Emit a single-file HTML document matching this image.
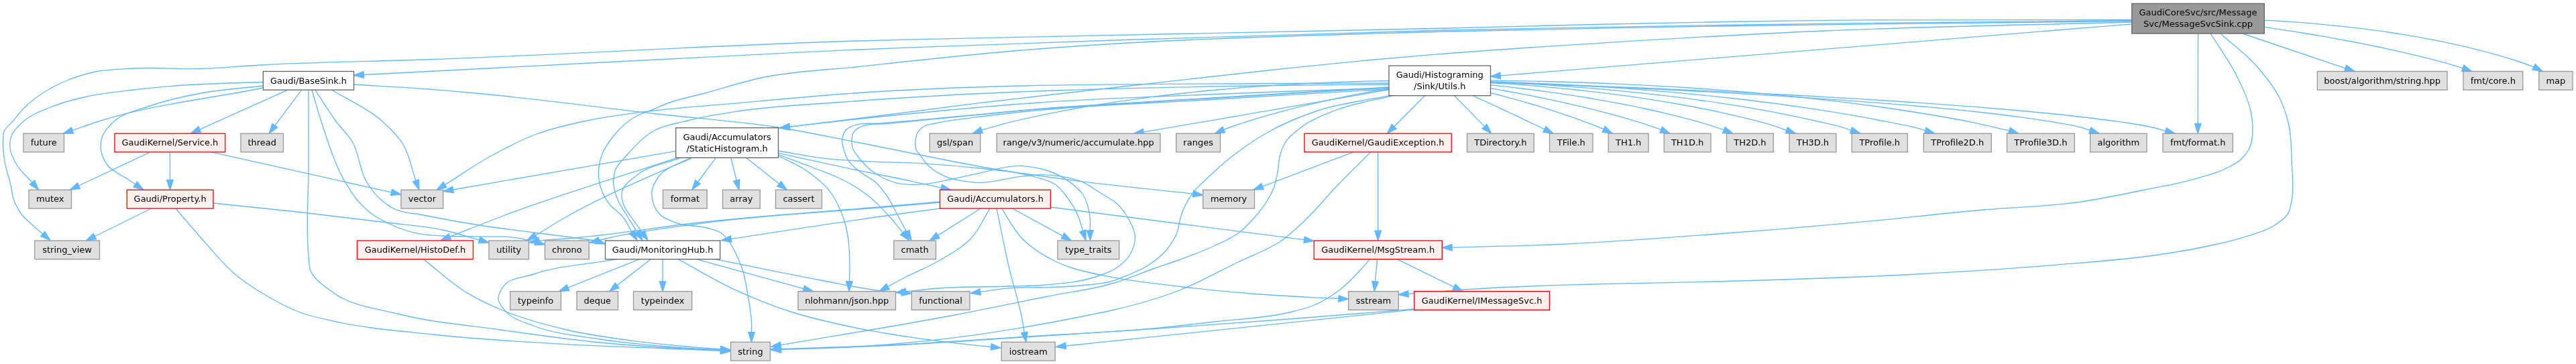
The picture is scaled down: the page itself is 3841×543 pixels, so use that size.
<!DOCTYPE html>
<html lang="en"><head><meta charset="utf-8"><title>GaudiCoreSvc/src/MessageSvc/MessageSvcSink.cpp include dependency graph</title>
<style>html,body{margin:0;padding:0;background:#fff;overflow:hidden}svg{display:block;will-change:transform}
text{font-family:"DejaVu Sans","Liberation Sans",sans-serif;font-size:13px;text-anchor:middle;fill:#000}
.e{fill:none;stroke:#63b8ff;stroke-width:1.333}.a{fill:#63b8ff;stroke:#63b8ff;stroke-width:1.333}
rect{stroke-width:1.333}.ng{fill:#e0e0e0;stroke:#999}.nx{fill:#fff0f0;stroke:#f00}.nw{fill:#fff;stroke:#666}.nr{fill:#999;stroke:#666}
</style></head><body>
<svg width="3841" height="543" viewBox="0 0 3841 543">
<g class="e">
<path d="M3178.8,33.0C3025.8,37.3 2872.8,39.4 2720.0,46.0C2613.3,50.6 2506.6,56.7 2400.0,63.3C2313.3,68.7 2226.6,74.2 2140.0,81.2C2106.0,84.0 2072.0,86.9 2038.0,90.0C1992.0,94.3 1946.0,99.2 1900.0,104.0C1825.2,111.9 1750.4,120.6 1675.6,129.0C1606.9,136.7 1538.2,144.2 1469.6,152.5C1414.7,159.2 1359.9,166.7 1305.0,173.5C1262.4,178.8 1219.8,183.9 1177.2,189.1"/>
<path d="M3178.8,30.5C3025.8,32.1 2872.9,33.2 2720.0,35.3C2613.3,36.7 2506.7,38.4 2400.0,40.3C2313.3,41.9 2226.7,43.5 2140.0,45.5C1926.6,50.5 1713.3,58.1 1500.0,65.8C1426.7,68.4 1353.3,70.9 1280.0,74.0C1153.3,79.3 1026.7,86.5 900.0,93.0C780.8,99.1 661.6,105.4 542.4,111.5"/>
<path d="M3178.8,35.8L2237.3,112.9"/>
<path d="M3178.8,31.5C3025.8,33.3 2872.9,34.7 2720.0,36.8C2613.3,38.3 2506.7,39.8 2400.0,41.8C2313.3,43.5 2226.6,45.0 2140.0,47.5C1926.5,53.7 1712.7,58.3 1500.0,77.0C1426.6,83.4 1353.3,91.6 1280.0,99.5C1233.3,104.5 1185.9,105.7 1140.0,115.0C1108.6,121.4 1078.0,131.7 1047.0,140.0C1031.3,144.2 1015.3,147.2 1000.0,152.5C990.5,155.8 981.3,160.0 972.0,163.8C964.7,166.7 956.9,168.8 950.0,172.5C936.6,179.6 924.6,190.7 915.0,202.5C908.1,211.1 901.3,220.7 897.5,231.0C894.6,238.9 892.7,247.6 892.5,256.0C892.3,264.3 893.5,273.1 896.0,281.0C898.9,289.9 904.0,298.7 910.0,306.0C914.9,312.0 922.4,316.0 927.5,322.0C933.5,329.1 937.3,338.0 942.2,346.0"/>
<path d="M3296.0,49.9C3309.2,71.4 3324.7,91.8 3335.7,114.4C3343.5,130.4 3351.9,146.7 3355.6,164.0C3357.4,172.5 3359.0,181.3 3359.0,190.0C3359.0,199.9 3358.7,210.9 3354.7,219.8C3351.9,226.1 3347.2,232.1 3342.3,237.0C3335.6,243.6 3326.2,247.7 3317.6,252.0C3303.6,258.9 3288.0,262.5 3273.0,266.8C3248.8,273.8 3223.7,277.9 3199.0,283.0C3166.1,289.7 3133.2,296.7 3100.0,301.4C3053.0,308.1 3005.2,308.8 2957.8,313.0C2891.4,318.9 2825.3,326.7 2758.9,332.7C2692.7,338.7 2626.3,344.1 2560.0,349.0C2481.4,354.9 2402.7,361.1 2324.0,364.5C2271.1,366.8 2218.0,367.5 2165.0,369.1"/>
<path d="M3343.7,50.0L3497.1,101.8"/>
<path d="M3375.6,40.2C3381.9,41.2 3388.3,42.1 3394.6,43.1C3401.3,44.1 3408.0,45.1 3414.7,46.2C3421.8,47.3 3428.8,48.4 3435.8,49.5C3443.1,50.8 3450.5,52.0 3457.8,53.2C3465.3,54.5 3472.8,55.9 3480.3,57.2C3488.0,58.6 3495.7,60.0 3503.4,61.5C3511.2,63.0 3519.1,64.5 3526.9,66.1C3534.8,67.6 3542.7,69.3 3550.6,70.9C3558.5,72.6 3566.4,74.3 3574.3,76.1C3582.2,77.9 3590.1,79.7 3598.0,81.6C3605.8,83.4 3613.7,85.4 3621.5,87.3C3629.2,89.3 3636.9,91.3 3644.6,93.4C3653.8,96.0 3663.0,99.0 3672.2,101.7"/>
<path d="M3277.5,50.0L3277.2,184.4"/>
<path d="M3375.5,30.1C3383.9,30.6 3392.4,31.0 3400.8,31.5C3409.9,32.1 3419.0,32.7 3428.2,33.4C3437.9,34.1 3447.6,34.9 3457.2,35.8C3467.4,36.7 3477.6,37.7 3487.8,38.8C3498.4,39.9 3509.0,41.1 3519.6,42.4C3530.5,43.7 3541.4,45.2 3552.3,46.7C3563.5,48.3 3574.6,50.0 3585.7,51.8C3597.0,53.7 3608.2,55.6 3619.5,57.8C3630.8,59.9 3642.1,62.1 3653.3,64.6C3664.6,67.0 3675.9,69.6 3687.1,72.3C3698.2,75.1 3709.3,78.0 3720.4,81.1C3731.3,84.2 3742.2,87.4 3753.0,91.0C3761.4,93.8 3769.7,96.8 3778.1,99.8"/>
<path d="M3310.9,49.9C3329.1,66.4 3349.6,81.0 3365.6,99.5C3378.7,114.7 3392.0,130.9 3400.4,149.0C3406.4,161.9 3410.7,176.0 3413.5,190.0C3416.8,206.3 3416.4,223.3 3417.0,240.0C3417.7,259.6 3420.9,279.9 3417.0,299.0C3415.7,305.6 3414.9,313.0 3411.6,318.7C3407.4,326.0 3399.0,331.2 3391.8,336.0C3378.8,344.8 3362.4,348.4 3347.3,353.3C3328.0,359.6 3307.9,363.8 3288.0,368.0C3265.1,372.9 3241.9,376.5 3218.7,380.0C3165.2,388.0 3111.0,391.3 3057.0,395.8C2990.8,401.3 2924.4,405.4 2858.0,409.0C2758.8,414.4 2659.4,417.3 2560.0,420.0C2498.0,421.7 2436.0,422.1 2374.0,424.0C2324.3,425.5 2274.5,426.7 2224.8,429.5C2183.2,431.8 2141.6,435.5 2100.0,438.4"/>
<path d="M3178.8,29.5C3025.8,29.8 2872.9,28.7 2720.0,30.4C2613.3,31.6 2506.7,33.7 2400.0,36.0C2313.3,37.9 2226.7,40.4 2140.0,42.5C1926.7,47.6 1713.3,50.8 1500.0,55.8C1426.7,57.4 1353.3,58.9 1280.0,61.0C1068.6,67.1 857.4,80.9 646.0,88.5C560.0,91.6 473.9,92.3 388.0,97.0C358.7,98.6 329.4,101.6 300.0,102.5C266.7,103.5 233.2,100.2 200.0,102.0C180.0,103.1 159.5,103.2 140.0,107.5C126.4,110.5 112.9,114.7 100.0,120.0C86.8,125.5 73.8,132.0 62.0,140.0C53.2,145.9 44.6,152.6 37.0,160.0C30.4,166.4 25.0,174.0 19.0,181.0C14.7,186.0 8.3,190.2 6.0,196.0C3.9,201.2 4.6,207.7 4.5,213.5C4.3,223.5 5.7,233.6 7.5,243.5C9.2,253.1 12.6,262.5 15.0,272.0C17.5,282.0 18.0,292.7 22.0,302.0C24.6,308.1 28.0,314.2 32.0,319.5C37.0,326.1 43.8,331.4 50.0,337.0C54.5,341.1 59.2,344.9 63.8,348.9"/>
<path d="M470.0,134.2C480.3,149.8 489.9,166.0 501.0,181.0C508.6,191.3 518.4,200.2 525.0,211.0C536.2,229.2 535.6,253.9 547.0,272.0C551.8,279.6 557.2,287.3 563.6,293.7C570.7,300.7 579.2,307.2 588.0,311.6C601.1,318.2 617.3,318.0 632.0,321.0C659.5,326.6 687.0,331.6 714.7,336.0C742.0,340.3 769.6,343.4 797.0,347.0C815.3,349.4 833.7,351.6 852.0,354.0C864.2,355.6 876.4,357.3 888.6,359.0"/>
<path d="M392.4,128.0C361.6,131.7 330.4,133.3 300.0,139.0C274.7,143.8 249.3,149.1 225.0,157.5C206.2,164.0 184.2,167.8 170.0,181.0C163.2,187.3 155.5,194.8 152.5,203.5C150.9,208.2 150.0,213.6 150.0,218.5C150.1,228.0 154.6,238.4 160.0,246.0C166.8,255.5 179.9,260.1 190.0,267.0C193.9,269.7 197.8,272.3 201.8,275.0"/>
<path d="M429.2,134.2L297.7,193.1"/>
<path d="M465.0,134.2C469.7,149.8 473.9,165.6 479.0,181.0C489.2,211.9 498.4,244.1 515.0,272.0C520.5,281.3 526.0,290.8 533.0,299.0C538.1,305.0 543.9,310.7 550.0,315.7C559.8,323.7 571.5,329.7 583.0,335.0C594.4,340.2 606.4,344.5 618.6,347.3C632.0,350.4 646.2,351.0 660.0,352.0C678.2,353.3 696.5,352.4 714.7,352.8C733.0,353.3 751.6,351.9 769.7,354.7C779.3,356.2 788.7,358.8 798.3,360.9"/>
<path d="M392.4,131.0C310.8,147.7 226.7,155.5 147.5,181.0C134.3,185.3 121.2,190.0 108.0,194.5"/>
<path d="M527.6,126.0C565.1,128.3 602.6,130.1 640.0,133.0C666.7,135.1 693.4,137.5 720.0,140.0C806.9,148.2 893.3,160.2 980.0,170.0C1040.0,176.8 1100.4,180.7 1160.0,190.0C1200.9,196.4 1241.4,205.1 1282.0,213.0C1313.6,219.2 1345.1,225.8 1376.7,232.0C1407.8,238.1 1438.8,244.6 1470.0,250.0C1514.5,257.7 1559.2,263.7 1604.0,269.6C1662.2,277.2 1720.7,282.6 1779.1,289.1"/>
<path d="M392.4,122.5C353.3,124.0 314.0,124.2 275.0,127.0C250.0,128.8 224.9,131.0 200.0,134.0C174.9,137.0 149.5,139.2 125.0,145.0C108.1,149.0 91.0,153.3 75.0,160.0C61.2,165.8 45.8,171.1 35.0,181.0C27.5,187.9 18.5,196.2 16.0,206.0C14.8,210.7 14.5,216.1 15.0,221.0C15.8,229.7 20.5,238.4 25.0,246.0C30.8,255.8 40.3,263.3 48.0,272.0"/>
<path d="M460.0,134.2C460.0,172.8 460.0,211.4 460.0,250.0C460.0,293.3 455.8,336.9 460.0,380.0C460.7,387.3 460.3,395.3 462.5,402.0C467.4,416.7 484.2,427.1 497.0,436.6C524.5,457.0 563.1,460.4 597.0,469.0C645.6,481.3 696.2,485.0 746.0,492.0C795.6,499.0 845.2,506.1 895.0,511.0C936.2,515.0 977.6,517.9 1019.0,520.0C1037.6,521.0 1056.1,521.6 1074.7,522.4"/>
<path d="M449.7,134.2L409.9,187.3"/>
<path d="M495.0,134.2C520.0,149.8 548.3,161.4 570.0,181.0C580.8,190.8 592.1,201.4 600.0,213.5C610.5,229.8 613.3,250.7 620.0,269.4"/>
<path d="M970.3,386.7L920.2,425.6"/>
<path d="M1066.0,386.6C1118.7,397.1 1171.2,408.3 1224.0,418.0C1253.8,423.5 1283.5,430.6 1313.6,433.8C1323.9,434.9 1334.2,435.5 1344.5,436.3"/>
<path d="M1011.0,386.6C1037.2,400.8 1062.7,416.6 1089.6,429.3C1118.6,443.0 1148.5,455.2 1179.0,465.0C1208.3,474.4 1238.6,481.1 1268.8,487.5C1298.4,493.8 1328.4,498.7 1358.4,503.2C1388.2,507.7 1418.1,511.1 1448.0,514.4C1457.9,515.5 1467.8,516.4 1477.7,517.5"/>
<path d="M1038.3,386.7L1198.3,430.7"/>
<path d="M920.0,386.6C878.5,394.1 835.4,395.7 795.6,409.0C780.5,414.0 759.7,414.5 751.0,426.6C747.1,432.0 742.5,440.2 743.0,446.5C743.5,453.5 750.7,460.9 756.0,466.4C765.9,476.7 782.0,480.6 795.6,486.0C826.8,498.5 861.6,500.8 895.0,506.0C927.9,511.1 961.3,514.2 994.5,517.0C1021.2,519.2 1048.0,520.4 1074.7,522.1"/>
<path d="M988.1,386.7L988.1,419.9"/>
<path d="M953.5,386.7L847.0,429.2"/>
<path d="M262.0,311.0C276.7,328.0 291.0,345.3 306.0,362.0C319.7,377.3 332.5,393.7 348.0,407.0C363.3,420.1 380.6,431.3 398.0,441.5C413.9,450.8 430.3,459.6 447.5,466.0C463.4,471.9 480.4,475.2 497.0,479.0C545.8,490.2 596.2,493.6 646.0,499.0C712.1,506.2 778.6,510.0 845.0,513.7C894.8,516.5 944.7,517.9 994.5,520.0C1021.2,521.1 1048.0,522.3 1074.7,523.4"/>
<path d="M225.6,311.0L141.5,352.5"/>
<path d="M318.0,303.0C365.3,308.0 412.7,312.6 460.0,318.0C499.0,322.4 538.0,327.0 577.0,332.0C604.7,335.5 632.8,337.1 660.0,343.0C678.5,347.0 696.5,353.0 714.7,358.0"/>
<path d="M253.4,226.8L253.5,268.5"/>
<path d="M224.0,226.8L117.5,277.0"/>
<path d="M315.2,226.8L583.6,286.9"/>
<path d="M1160.5,228.4C1198.2,236.6 1235.8,245.1 1273.6,253.0C1301.0,258.7 1328.6,263.7 1356.0,269.6C1371.9,273.0 1387.7,276.6 1403.5,280.1"/>
<path d="M1015.0,235.3C993.3,243.9 967.6,246.5 950.0,261.0C941.5,268.0 929.4,275.9 927.5,286.0C926.3,292.0 927.8,299.8 930.0,306.0C932.1,311.8 936.5,316.7 940.0,322.0C945.5,330.4 951.6,338.4 957.4,346.5"/>
<path d="M1010.0,235.3C923.3,264.2 835.4,289.6 750.0,322.0C723.5,332.1 697.2,342.8 670.8,353.2"/>
<path d="M1089.8,235.3L1098.3,269.0"/>
<path d="M1112.5,235.3L1161.8,274.2"/>
<path d="M1160.5,230.5C1177.6,237.0 1194.8,243.3 1211.8,250.0C1225.6,255.4 1239.8,259.9 1253.0,266.5C1266.6,273.2 1280.0,280.9 1292.0,290.0C1305.6,300.3 1317.6,313.1 1329.0,326.0C1335.0,332.8 1340.4,340.1 1346.2,347.1"/>
<path d="M1067.5,235.3L1040.5,271.5"/>
<path d="M1160.5,232.5C1174.2,239.7 1188.9,245.3 1201.5,254.0C1216.0,264.0 1231.0,275.3 1240.7,290.0C1242.8,293.2 1244.8,296.6 1246.6,300.0C1252.2,310.4 1256.7,321.7 1260.0,333.0C1266.3,354.3 1267.0,377.6 1267.0,400.0C1267.0,406.6 1266.6,413.2 1266.4,419.8"/>
<path d="M1032.0,235.3C1015.3,244.7 992.4,248.4 982.0,263.5C977.5,270.0 972.8,278.2 972.0,286.0C971.3,292.4 972.6,299.9 975.0,306.0C976.8,310.6 979.7,315.3 983.0,319.0C989.5,326.3 1000.6,329.6 1010.0,333.0C1023.8,338.0 1039.8,335.9 1054.0,340.0C1061.5,342.2 1069.9,343.5 1076.0,348.0C1080.3,351.2 1083.7,356.0 1087.0,360.4C1091.4,366.3 1094.7,373.1 1098.0,379.7C1101.2,386.3 1104.1,393.1 1106.5,400.0C1110.9,412.8 1112.7,426.6 1115.0,440.0C1117.3,453.2 1120.0,466.6 1120.5,480.0C1120.7,485.2 1120.5,490.4 1120.5,495.6"/>
<path d="M1160.5,225.0C1184.5,228.9 1208.3,233.9 1232.4,236.6C1252.8,238.9 1273.5,239.7 1294.0,240.8C1321.5,242.3 1349.2,242.1 1376.7,243.8C1404.5,245.5 1432.3,247.9 1460.0,251.0C1480.7,253.3 1501.6,254.8 1522.0,259.0C1532.3,261.1 1542.8,263.1 1552.7,266.5C1559.6,268.8 1567.1,270.8 1573.0,274.8C1578.7,278.7 1583.3,284.6 1587.8,290.0C1595.8,299.6 1602.7,310.5 1607.5,322.0C1610.5,329.2 1612.2,337.0 1614.6,344.5"/>
<path d="M1030.0,235.3C969.0,264.2 905.6,288.5 847.0,322.0C830.7,331.3 814.8,341.3 798.7,351.0"/>
<path d="M1007.8,225.4L675.6,283.0"/>
<path d="M1401.5,302.0C1374.3,304.3 1347.2,306.6 1320.0,309.0C1224.0,317.3 1127.4,321.6 1032.0,335.0C988.9,341.0 945.3,345.7 903.0,356.0C899.8,356.8 896.6,357.6 893.4,358.4"/>
<path d="M1462.1,311.0L1398.6,351.1"/>
<path d="M1486.0,310.8C1492.3,340.8 1497.9,371.1 1505.0,401.0C1510.5,424.4 1518.3,447.4 1523.0,471.0C1524.6,479.2 1525.9,487.6 1527.4,495.8"/>
<path d="M1476.0,310.8C1466.9,325.4 1460.1,342.2 1448.7,354.7C1435.3,369.3 1416.4,379.3 1399.0,389.5C1383.0,398.9 1365.4,405.4 1349.0,414.0C1340.6,418.4 1332.3,423.0 1324.0,427.5"/>
<path d="M1493.5,310.8C1503.3,325.4 1511.0,342.2 1523.0,354.7C1536.8,369.1 1554.8,380.7 1573.0,389.5C1581.0,393.4 1589.5,396.6 1598.0,399.5C1618.0,406.4 1639.2,409.7 1660.0,413.8C1693.0,420.1 1726.6,423.5 1760.0,427.5C1793.3,431.4 1826.6,434.8 1860.0,437.5C1893.3,440.2 1926.6,442.0 1960.0,443.8C1972.0,444.4 1984.0,444.9 1996.0,445.5"/>
<path d="M1509.4,311.0L1584.5,351.9"/>
<path d="M1401.5,301.0C1374.3,303.3 1347.2,305.7 1320.0,308.0C1224.0,316.3 1127.7,321.8 1032.0,333.0C986.3,338.3 940.8,346.1 895.0,351.0C883.3,352.2 871.7,353.4 860.0,354.5C841.3,356.2 822.6,357.4 803.9,358.8"/>
<path d="M1403.0,310.8C1375.3,314.5 1347.7,318.1 1320.0,322.0C1243.3,332.7 1166.8,344.9 1090.1,356.4"/>
<path d="M1566.5,309.0C1600.2,313.3 1633.8,317.7 1667.5,322.0C1759.9,333.9 1852.2,345.7 1944.6,357.6"/>
<path d="M2083.1,386.7L2168.0,428.2"/>
<path d="M2053.5,386.7L2050.5,419.9"/>
<path d="M2042.5,386.6C2038.7,391.1 2034.9,395.6 2031.0,400.0C2020.6,411.5 2009.8,423.1 1997.5,432.5C1986.0,441.3 1973.3,449.3 1960.0,455.0C1948.1,460.1 1935.1,462.9 1922.5,466.0C1885.9,475.1 1847.5,475.6 1810.0,480.0C1780.0,483.5 1750.0,487.0 1720.0,489.9C1655.8,496.0 1591.3,498.2 1527.0,502.3C1460.8,506.5 1394.6,511.6 1328.4,514.7C1273.8,517.3 1219.1,518.6 1164.4,520.5"/>
<path d="M2108.8,461.8L1589.1,516.0"/>
<path d="M2108.8,461.0C2050.8,465.7 1992.9,470.6 1935.0,475.0C1863.4,480.5 1791.7,485.6 1720.0,490.5C1655.7,494.9 1591.3,498.9 1527.0,503.0C1460.8,507.2 1394.6,512.2 1328.4,515.3C1273.8,517.9 1219.1,519.1 1164.4,521.0"/>
<path d="M631.5,386.6C653.0,403.3 672.8,422.6 696.0,436.6C711.9,446.2 728.9,454.2 746.0,461.5C777.6,475.1 811.5,484.1 845.0,492.0C877.8,499.7 911.5,504.2 945.0,508.7C977.9,513.1 1010.9,515.9 1044.0,518.6C1054.2,519.4 1064.5,520.1 1074.7,520.9"/>
<path d="M2071.0,131.0C1980.7,134.3 1890.3,137.1 1800.0,141.0C1716.6,144.6 1633.2,147.2 1550.0,153.0C1498.3,156.6 1446.6,161.2 1395.0,166.0C1339.9,171.1 1284.9,176.8 1230.0,183.0C1212.4,185.0 1194.8,187.1 1177.2,189.2"/>
<path d="M2071.0,126.0C2014.0,126.5 1957.0,126.6 1900.0,127.5C1686.5,130.7 1472.8,135.5 1260.0,152.0C1206.6,156.1 1152.9,157.8 1100.0,166.0C1074.9,169.9 1049.6,173.8 1025.0,180.0C1008.2,184.3 989.8,186.7 975.0,195.0C959.7,203.5 946.8,217.6 935.0,231.0C928.7,238.1 920.7,244.9 917.5,253.5C915.0,260.3 914.4,268.6 915.0,276.0C915.6,284.5 919.0,293.1 922.5,301.0C925.8,308.4 930.8,315.0 935.0,322.0C939.9,330.1 945.1,338.0 950.1,346.1"/>
<path d="M2124.5,142.7L2078.8,188.7"/>
<path d="M2168.6,142.7L2213.5,188.6"/>
<path d="M2195.8,142.5C2198.2,143.6 2200.6,144.7 2202.9,145.8C2205.4,147.0 2207.9,148.1 2210.4,149.3C2213.0,150.4 2215.6,151.6 2218.1,152.8C2220.8,154.0 2223.4,155.3 2226.1,156.5C2228.8,157.7 2231.5,159.0 2234.2,160.2C2236.9,161.5 2239.7,162.8 2242.4,164.1C2245.2,165.4 2248.0,166.7 2250.7,168.0C2253.5,169.3 2256.3,170.6 2259.1,171.9C2261.9,173.2 2264.7,174.5 2267.5,175.9C2270.3,177.2 2273.1,178.5 2275.9,179.8C2278.7,181.2 2281.4,182.5 2284.2,183.8C2287.0,185.1 2289.7,186.4 2292.4,187.7C2295.9,189.4 2299.4,191.1 2302.9,192.8"/>
<path d="M2222.4,138.3C2226.4,139.4 2230.4,140.4 2234.4,141.5C2238.6,142.6 2242.8,143.7 2246.9,144.8C2251.3,146.0 2255.6,147.2 2259.9,148.4C2264.3,149.7 2268.8,151.0 2273.2,152.2C2277.7,153.6 2282.3,154.9 2286.8,156.2C2291.4,157.6 2296.0,159.0 2300.6,160.4C2305.2,161.9 2309.9,163.4 2314.5,164.8C2319.2,166.3 2323.8,167.9 2328.5,169.4C2333.1,171.0 2337.8,172.6 2342.4,174.2C2347.0,175.8 2351.6,177.4 2356.2,179.1C2360.8,180.8 2365.3,182.4 2369.8,184.2C2374.3,185.9 2378.7,187.6 2383.2,189.4C2385.9,190.5 2388.5,191.6 2391.2,192.7"/>
<path d="M2222.0,131.7C2227.4,132.6 2232.9,133.6 2238.4,134.5C2244.3,135.6 2250.1,136.6 2255.9,137.7C2262.1,138.8 2268.3,140.0 2274.4,141.2C2280.9,142.4 2287.3,143.7 2293.7,145.0C2300.3,146.3 2307.0,147.7 2313.6,149.1C2320.4,150.5 2327.2,152.0 2334.0,153.6C2341.0,155.1 2347.9,156.7 2354.8,158.3C2361.8,160.0 2368.8,161.7 2375.8,163.4C2382.8,165.2 2389.8,167.0 2396.8,168.9C2403.8,170.7 2410.8,172.6 2417.7,174.6C2424.7,176.6 2431.6,178.6 2438.4,180.7C2445.2,182.8 2452.0,184.9 2458.8,187.2C2464.8,189.2 2470.7,191.4 2476.7,193.5"/>
<path d="M2222.2,126.8C2229.0,127.5 2235.9,128.2 2242.7,128.9C2250.1,129.8 2257.6,130.6 2265.0,131.5C2272.9,132.5 2280.9,133.5 2288.8,134.5C2297.2,135.6 2305.6,136.7 2314.0,137.9C2322.8,139.1 2331.5,140.4 2340.3,141.7C2349.4,143.1 2358.4,144.5 2367.5,146.0C2376.8,147.6 2386.0,149.2 2395.3,150.8C2404.7,152.5 2414.2,154.3 2423.6,156.1C2433.1,158.0 2442.6,159.9 2452.1,162.0C2461.6,164.0 2471.1,166.1 2480.6,168.4C2490.0,170.6 2499.4,172.9 2508.8,175.3C2518.1,177.7 2527.5,180.2 2536.7,182.9C2548.0,186.3 2559.2,190.2 2570.5,193.9"/>
<path d="M2221.9,123.5C2230.5,124.1 2239.1,124.6 2247.7,125.1C2257.2,125.8 2266.8,126.5 2276.3,127.2C2286.7,128.0 2297.1,128.9 2307.4,129.8C2318.5,130.8 2329.6,131.9 2340.7,133.0C2352.3,134.2 2364.0,135.5 2375.7,136.8C2387.8,138.2 2399.9,139.7 2412.1,141.3C2424.5,143.0 2437.0,144.7 2449.5,146.6C2462.2,148.5 2474.9,150.5 2487.6,152.6C2500.4,154.8 2513.2,157.1 2526.0,159.5C2538.8,162.0 2551.6,164.5 2564.3,167.3C2577.0,170.1 2589.7,173.0 2602.3,176.1C2614.7,179.2 2627.2,182.0 2639.5,185.9C2647.7,188.4 2655.7,191.6 2663.8,194.4"/>
<path d="M2221.4,122.4C2231.0,122.8 2240.5,123.2 2250.0,123.6C2260.7,124.2 2271.5,124.7 2282.2,125.4C2293.9,126.0 2305.7,126.8 2317.5,127.6C2330.2,128.4 2342.8,129.3 2355.5,130.3C2369.0,131.4 2382.4,132.5 2395.9,133.7C2410.0,135.0 2424.0,136.4 2438.1,137.8C2452.7,139.3 2467.3,140.9 2481.8,142.7C2496.7,144.4 2511.7,146.3 2526.6,148.3C2541.7,150.4 2556.8,152.5 2571.9,154.9C2587.1,157.2 2602.3,159.7 2617.5,162.4C2632.7,165.0 2647.8,167.8 2662.9,170.9C2677.8,173.9 2692.7,177.0 2707.6,180.5C2721.8,183.7 2736.2,186.3 2750.0,190.9C2753.3,192.0 2756.7,193.2 2760.0,194.4"/>
<path d="M2221.9,121.8C2233.0,122.1 2244.1,122.5 2255.2,122.9C2267.9,123.3 2280.5,123.9 2293.2,124.4C2307.3,125.1 2321.4,125.7 2335.5,126.5C2350.8,127.3 2366.1,128.2 2381.4,129.2C2397.8,130.2 2414.1,131.3 2430.5,132.6C2447.7,133.8 2464.9,135.2 2482.1,136.7C2500.0,138.2 2517.8,139.9 2535.7,141.6C2554.0,143.5 2572.4,145.4 2590.7,147.5C2609.4,149.7 2628.0,151.9 2646.6,154.4C2665.4,156.9 2684.1,159.5 2702.9,162.3C2721.5,165.1 2740.2,168.1 2758.8,171.4C2777.3,174.6 2795.7,178.0 2814.0,181.7C2829.6,184.8 2845.4,187.3 2860.6,191.7C2864.0,192.7 2867.4,193.8 2870.8,194.9"/>
<path d="M2221.5,120.2C2234.3,120.3 2247.1,120.4 2259.9,120.6C2274.8,120.9 2289.7,121.2 2304.7,121.5C2321.5,121.9 2338.3,122.4 2355.1,123.0C2373.5,123.6 2392.0,124.3 2410.4,125.1C2430.2,126.0 2450.1,127.0 2469.9,128.1C2490.8,129.2 2511.8,130.5 2532.7,132.0C2554.6,133.5 2576.4,135.1 2598.2,136.9C2620.7,138.8 2643.2,140.9 2665.6,143.1C2688.5,145.4 2711.3,147.9 2734.1,150.6C2757.2,153.3 2780.1,156.3 2803.1,159.5C2826.0,162.7 2848.9,166.2 2871.7,170.0C2894.2,173.7 2916.8,177.6 2939.2,182.1C2958.2,186.0 2977.0,190.7 2995.9,195.0"/>
<path d="M2220.9,122.7C2237.8,123.4 2254.7,123.9 2271.7,124.6C2291.8,125.3 2312.0,126.1 2332.2,127.0C2355.1,127.9 2377.9,128.9 2400.8,129.9C2425.7,131.0 2450.5,132.2 2475.4,133.4C2501.7,134.7 2527.9,136.0 2554.2,137.4C2581.2,138.9 2608.3,140.4 2635.3,142.1C2662.4,143.7 2689.6,145.4 2716.7,147.3C2743.4,149.1 2770.1,151.0 2796.7,153.1C2822.2,155.1 2847.8,157.2 2873.3,159.5C2897.0,161.7 2920.8,163.9 2944.5,166.5C2965.9,168.9 2987.3,171.3 3008.6,174.2C3027.0,176.7 3045.4,179.2 3063.6,182.5C3077.9,185.0 3092.4,186.7 3106.1,191.0C3109.6,192.1 3113.0,193.4 3116.4,194.5"/>
<path d="M2071.0,130.0C1980.7,135.5 1890.3,140.9 1800.0,146.5C1716.7,151.7 1633.2,155.6 1550.0,162.4C1498.3,166.6 1446.7,172.2 1395.0,176.8C1367.5,179.3 1339.9,181.4 1312.4,184.0C1298.6,185.3 1283.2,182.0 1271.0,188.0C1267.5,189.7 1263.5,191.5 1261.0,194.3C1258.0,197.7 1256.4,203.1 1255.8,207.7C1255.1,213.3 1257.1,219.4 1258.8,225.0C1260.3,230.1 1262.2,235.3 1265.0,239.7C1269.1,246.2 1276.0,251.0 1282.0,256.0C1289.6,262.3 1299.5,266.0 1306.6,272.7C1312.0,277.8 1316.6,284.0 1321.0,290.0C1329.0,301.1 1334.4,314.0 1341.0,326.0C1344.6,332.5 1348.2,339.1 1351.8,345.6"/>
<path d="M2221.3,122.6C2239.5,123.3 2257.6,123.9 2275.8,124.5C2297.7,125.3 2319.6,126.1 2341.5,126.9C2366.5,127.9 2391.5,128.8 2416.4,129.9C2443.8,131.0 2471.1,132.1 2498.5,133.4C2527.5,134.7 2556.5,136.0 2585.5,137.4C2615.5,138.9 2645.5,140.4 2675.4,142.0C2705.7,143.7 2735.9,145.4 2766.1,147.2C2796.0,149.0 2825.8,150.9 2855.6,152.9C2884.2,154.9 2912.9,156.9 2941.6,159.2C2968.4,161.3 2995.2,163.5 3022.1,166.0C3046.4,168.3 3070.7,170.7 3094.9,173.5C3116.0,175.9 3137.1,178.3 3158.1,181.4C3175.3,184.0 3192.6,185.8 3209.5,190.0C3216.0,191.6 3222.5,193.6 3229.1,195.4"/>
<path d="M2073.0,142.4C2037.0,149.9 1999.7,153.4 1965.0,165.0C1939.3,173.6 1913.6,184.2 1890.0,197.5C1872.6,207.3 1855.8,218.8 1840.0,231.0C1826.9,241.1 1814.5,252.1 1802.5,263.5C1794.8,270.8 1786.4,277.6 1780.0,286.0C1775.2,292.2 1771.0,299.0 1767.5,306.0C1765.0,311.1 1762.8,316.6 1761.0,322.0C1758.3,330.1 1758.1,339.1 1755.0,347.0C1751.5,355.9 1746.1,364.6 1740.0,372.0C1731.9,382.0 1720.9,390.1 1710.0,397.0C1699.2,403.8 1686.9,408.2 1675.0,413.0C1670.0,415.0 1665.1,417.1 1660.0,418.8C1644.0,423.9 1626.7,424.3 1610.0,426.0C1593.4,427.7 1576.7,428.1 1560.0,428.8C1541.7,429.4 1523.2,428.2 1505.0,429.8C1490.5,430.9 1476.1,433.6 1461.7,435.5"/>
<path d="M2071.1,120.5C2060.4,120.7 2049.6,120.9 2038.8,121.1C2026.6,121.4 2014.3,121.8 2002.0,122.3C1988.4,122.7 1974.9,123.3 1961.3,123.9C1946.6,124.6 1931.9,125.4 1917.2,126.3C1901.5,127.2 1885.8,128.3 1870.2,129.4C1853.7,130.6 1837.3,132.0 1820.9,133.5C1803.8,135.0 1786.8,136.6 1769.8,138.5C1752.4,140.3 1734.9,142.4 1717.5,144.6C1699.8,146.8 1682.1,149.3 1664.5,151.9C1646.8,154.6 1629.0,157.4 1611.4,160.6C1593.7,163.7 1576.1,167.0 1558.6,170.6C1541.3,174.2 1523.9,177.9 1506.8,182.2C1492.4,185.9 1478.1,190.1 1463.8,194.0"/>
<path d="M2071.0,133.0C1980.7,138.3 1890.3,143.5 1800.0,149.0C1716.7,154.0 1633.1,156.3 1550.0,164.4C1518.9,167.4 1487.7,170.5 1456.7,174.7C1436.0,177.5 1415.1,179.4 1394.8,184.0C1389.3,185.2 1383.1,185.2 1378.4,188.0C1375.3,189.8 1372.1,192.4 1370.0,195.3C1367.1,199.3 1365.5,204.8 1365.0,209.8C1364.5,214.7 1364.5,220.7 1367.0,225.0C1367.9,226.6 1369.3,227.9 1370.5,229.4C1374.8,234.8 1378.2,241.2 1383.0,246.0C1389.9,252.9 1398.8,258.3 1407.6,262.4C1417.2,266.8 1428.0,269.0 1438.5,270.6C1445.6,271.7 1452.8,272.1 1460.0,272.3C1480.8,272.8 1501.2,265.6 1522.0,263.4C1532.2,262.3 1542.5,260.7 1552.7,260.7C1563.0,260.7 1573.5,261.6 1583.6,263.4C1594.1,265.2 1604.8,267.5 1614.5,271.7C1623.9,275.8 1632.2,282.5 1641.0,288.0C1649.1,293.1 1658.1,297.1 1665.0,303.5C1670.8,308.8 1675.9,315.3 1680.0,322.0C1686.0,331.8 1692.6,343.5 1692.5,354.5C1692.4,362.7 1689.3,372.2 1685.0,379.5C1680.4,387.4 1672.6,394.2 1665.0,399.5C1656.2,405.6 1645.2,408.9 1635.0,412.5C1611.2,420.8 1585.2,422.7 1560.0,425.0C1541.8,426.7 1523.3,426.4 1505.0,427.0C1470.0,428.2 1434.9,427.3 1400.0,430.0C1383.5,431.3 1367.1,433.3 1350.7,435.0"/>
<path d="M2071.9,133.5C2065.3,134.7 2058.6,135.8 2052.0,137.0C2044.8,138.3 2037.5,139.5 2030.3,140.8C2022.6,142.1 2014.9,143.5 2007.1,144.8C1999.0,146.3 1990.8,147.7 1982.6,149.1C1974.1,150.6 1965.6,152.1 1957.0,153.6C1948.2,155.1 1939.4,156.6 1930.5,158.2C1921.5,159.8 1912.4,161.3 1903.3,162.9C1894.1,164.5 1884.8,166.1 1875.6,167.7C1866.3,169.3 1856.9,170.9 1847.6,172.6C1838.2,174.2 1828.9,175.8 1819.5,177.4C1810.2,179.0 1800.8,180.6 1791.5,182.2C1782.3,183.8 1773.0,185.4 1763.8,186.9C1754.1,188.6 1744.5,190.3 1734.8,191.9C1724.9,193.6 1715.0,195.2 1705.1,196.9"/>
<path d="M2071.5,131.8C2066.1,132.8 2060.7,133.7 2055.3,134.7C2049.5,135.7 2043.8,136.8 2038.0,137.9C2031.9,139.0 2025.9,140.2 2019.8,141.4C2013.5,142.6 2007.2,143.9 2000.9,145.2C1994.4,146.5 1987.9,147.9 1981.4,149.3C1974.7,150.8 1968.0,152.3 1961.4,153.8C1954.6,155.4 1947.8,157.0 1941.1,158.7C1934.2,160.3 1927.4,162.0 1920.6,163.8C1913.7,165.6 1906.9,167.4 1900.0,169.3C1893.2,171.2 1886.4,173.1 1879.6,175.1C1872.9,177.1 1866.1,179.2 1859.4,181.3C1852.8,183.4 1846.2,185.5 1839.7,187.8C1834.7,189.6 1829.8,191.4 1824.8,193.2"/>
<path d="M2078.0,142.4C2048.7,149.9 2017.9,153.7 1990.0,165.0C1972.8,171.9 1954.5,178.7 1940.0,190.0C1930.8,197.1 1920.6,204.9 1915.0,215.0C1912.3,219.9 1910.3,225.5 1908.8,231.0C1906.4,239.0 1906.6,247.7 1905.0,256.0C1903.6,263.5 1902.6,271.3 1900.0,278.5C1897.5,285.5 1893.8,292.1 1890.0,298.5C1885.0,306.8 1878.8,314.6 1872.5,322.0C1864.9,330.9 1856.8,339.9 1847.5,347.0C1836.4,355.5 1822.8,361.0 1810.0,367.0C1793.8,374.7 1776.8,380.8 1760.0,387.0C1747.6,391.6 1735.0,395.6 1722.5,400.0C1701.6,407.3 1681.2,416.2 1660.0,422.5C1627.5,432.1 1593.3,435.8 1560.0,442.5C1514.3,451.7 1468.7,461.3 1422.9,470.0C1336.9,486.4 1250.4,499.8 1164.2,514.7"/>
<path d="M2071.0,131.0C1980.7,136.3 1890.3,141.5 1800.0,147.0C1716.7,152.1 1633.2,156.0 1550.0,162.8C1498.3,167.1 1446.6,172.3 1395.0,177.4C1370.9,179.8 1346.8,182.0 1322.7,184.6C1309.7,186.0 1295.0,183.1 1283.6,189.0C1280.3,190.7 1276.3,192.5 1274.0,195.3C1271.0,199.0 1270.2,204.9 1270.0,209.8C1269.8,214.8 1270.6,220.5 1273.0,225.0C1274.2,227.3 1276.2,229.4 1277.8,231.5C1282.8,238.0 1287.9,244.6 1294.0,250.0C1300.3,255.6 1307.5,260.6 1315.0,264.5C1321.5,267.9 1328.4,270.9 1335.5,272.7C1342.1,274.4 1349.1,275.0 1356.0,275.4C1362.9,275.8 1369.8,275.3 1376.7,274.8C1390.6,273.7 1404.3,270.2 1418.0,267.5C1432.1,264.7 1446.0,261.1 1460.0,258.3C1480.6,254.2 1501.4,246.7 1522.0,247.5C1535.7,248.1 1550.0,250.5 1563.0,255.0C1573.8,258.8 1584.7,263.9 1594.0,270.6C1601.5,276.1 1609.4,282.4 1614.5,290.0C1620.5,299.1 1623.5,311.0 1625.0,322.0C1626.0,329.1 1625.2,336.5 1625.3,343.8"/>
<path d="M2071.0,124.0C2014.0,124.2 1957.0,124.1 1900.0,124.5C1686.6,126.1 1472.8,124.4 1260.0,140.0C1206.6,143.9 1153.3,149.0 1100.0,153.8C1058.3,157.4 1016.5,159.9 975.0,165.0C941.6,169.1 907.9,172.9 875.0,180.0C849.7,185.4 824.1,191.0 800.0,200.0C777.6,208.3 756.1,219.6 735.0,231.0C710.4,244.3 687.4,260.7 663.6,275.5"/>
<path d="M2054.6,226.8L2054.7,344.2"/>
<path d="M2018.1,226.8L1882.5,278.1"/>
<path d="M2044.0,226.8C2026.0,244.9 2007.5,262.5 1990.0,281.0C1977.3,294.4 1965.7,309.0 1952.5,322.0C1939.0,335.2 1925.4,348.8 1910.0,359.5C1890.6,372.9 1867.4,380.6 1846.0,391.0C1817.4,405.0 1789.5,420.9 1760.0,432.5C1727.7,445.2 1693.9,454.6 1660.0,462.5C1648.1,465.3 1636.0,467.6 1624.0,470.0C1567.2,481.5 1510.1,491.9 1452.7,499.8C1395.0,507.7 1336.9,513.6 1278.8,517.2C1240.7,519.6 1202.5,520.0 1164.4,521.5"/>
</g>
<g class="a">
<polygon points="1176.6,184.3 1162.5,190.9 1177.8,193.9"/>
<polygon points="542.1,106.7 527.6,112.3 542.6,116.3"/>
<polygon points="2236.9,108.1 2222.5,114.1 2237.6,117.7"/>
<polygon points="938.2,348.5 950.0,358.6 946.3,343.5"/>
<polygon points="2164.9,364.3 2150.2,369.5 2165.2,373.9"/>
<polygon points="3495.6,106.3 3511.2,106.5 3498.7,97.2"/>
<polygon points="3670.6,106.3 3686.1,106.7 3673.8,97.2"/>
<polygon points="3272.4,184.4 3277.2,199.2 3282.0,184.4"/>
<polygon points="3775.9,104.0 3791.2,106.6 3780.3,95.5"/>
<polygon points="2099.7,433.7 2085.2,439.5 2100.4,443.2"/>
<polygon points="60.7,352.6 75.0,358.6 66.9,345.3"/>
<polygon points="886.9,363.5 902.5,364.0 890.2,354.5"/>
<polygon points="199.1,279.0 214.0,283.3 204.5,271.0"/>
<polygon points="295.8,188.7 284.2,199.2 299.7,197.5"/>
<polygon points="797.0,365.5 812.5,365.0 799.6,356.3"/>
<polygon points="106.4,190.0 94.0,199.3 109.6,199.1"/>
<polygon points="1778.5,293.8 1793.8,291.0 1779.7,284.3"/>
<polygon points="44.3,275.1 57.5,283.3 51.6,268.9"/>
<polygon points="1074.5,527.2 1089.5,523.0 1074.9,517.6"/>
<polygon points="406.1,184.4 401.1,199.2 413.8,190.2"/>
<polygon points="615.5,271.0 625.0,283.3 624.5,267.7"/>
<polygon points="917.3,421.8 908.6,434.7 923.2,429.4"/>
<polygon points="1344.1,441.1 1359.2,437.5 1344.9,431.5"/>
<polygon points="1477.2,522.2 1492.4,519.0 1478.2,512.7"/>
<polygon points="1197.0,435.4 1212.5,434.7 1199.5,426.1"/>
<polygon points="1074.4,526.9 1089.5,523.0 1075.0,517.3"/>
<polygon points="983.3,419.9 988.1,434.7 992.9,419.9"/>
<polygon points="845.2,424.7 833.3,434.7 848.8,433.6"/>
<polygon points="1074.5,528.2 1089.5,524.0 1074.9,518.6"/>
<polygon points="139.3,348.2 128.2,359.0 143.6,356.8"/>
<polygon points="713.5,362.6 729.0,362.0 716.0,353.4"/>
<polygon points="248.7,268.5 253.6,283.3 258.3,268.5"/>
<polygon points="115.5,272.7 104.1,283.3 119.5,281.4"/>
<polygon points="582.5,291.6 598.0,290.1 584.6,282.2"/>
<polygon points="1402.5,284.8 1418.0,283.3 1404.6,275.4"/>
<polygon points="953.5,349.3 966.0,358.6 961.3,343.8"/>
<polygon points="669.0,348.7 657.0,358.6 672.5,357.6"/>
<polygon points="1093.6,270.2 1101.9,283.3 1102.9,267.8"/>
<polygon points="1158.8,277.9 1173.4,283.3 1164.8,270.4"/>
<polygon points="1342.4,350.1 1355.5,358.6 1349.9,344.1"/>
<polygon points="1036.7,268.6 1031.7,283.3 1044.4,274.3"/>
<polygon points="1261.6,419.7 1266.0,434.6 1271.2,419.9"/>
<polygon points="1115.7,495.6 1120.5,510.4 1125.3,495.6"/>
<polygon points="1610.0,345.9 1619.0,358.6 1619.1,343.0"/>
<polygon points="796.2,346.9 786.0,358.6 801.2,355.1"/>
<polygon points="674.8,278.2 661.0,285.5 676.4,287.7"/>
<polygon points="892.2,353.8 879.0,362.0 894.5,363.1"/>
<polygon points="1396.0,347.0 1386.0,359.0 1401.1,355.2"/>
<polygon points="1522.7,496.7 1530.0,510.4 1532.1,495.0"/>
<polygon points="1321.7,423.3 1311.0,434.6 1326.3,431.8"/>
<polygon points="1995.7,450.3 2010.8,446.2 1996.2,440.7"/>
<polygon points="1582.2,356.1 1597.5,359.0 1586.8,347.7"/>
<polygon points="802.9,354.1 789.5,362.0 805.0,363.5"/>
<polygon points="1089.4,351.7 1075.5,358.6 1090.8,361.2"/>
<polygon points="1944.0,362.4 1959.2,359.5 1945.2,352.9"/>
<polygon points="2165.9,432.5 2181.3,434.7 2170.1,423.9"/>
<polygon points="2045.8,419.5 2049.2,434.7 2055.3,420.4"/>
<polygon points="1164.2,515.7 1149.6,521.0 1164.6,525.3"/>
<polygon points="1588.6,511.2 1574.4,517.5 1589.6,520.7"/>
<polygon points="1164.2,516.2 1149.6,521.5 1164.6,525.8"/>
<polygon points="1074.4,525.7 1089.5,522.0 1075.1,516.1"/>
<polygon points="1176.6,184.4 1162.5,190.9 1177.8,193.9"/>
<polygon points="946.1,348.6 958.0,358.6 954.2,343.5"/>
<polygon points="2075.4,185.3 2068.4,199.2 2082.2,192.1"/>
<polygon points="2210.1,191.9 2223.8,199.2 2216.9,185.2"/>
<polygon points="2300.8,197.1 2316.2,199.4 2305.1,188.5"/>
<polygon points="2389.1,197.0 2404.5,199.3 2393.4,188.4"/>
<polygon points="2474.8,197.9 2490.3,199.4 2478.6,189.1"/>
<polygon points="2568.7,198.3 2584.2,199.4 2572.3,189.4"/>
<polygon points="2662.2,198.9 2677.8,199.3 2665.4,189.9"/>
<polygon points="2758.4,198.9 2774.0,199.3 2761.6,189.8"/>
<polygon points="2869.4,199.4 2885.0,199.2 2872.2,190.3"/>
<polygon points="2994.5,199.5 3010.0,199.4 2997.4,190.4"/>
<polygon points="3114.8,199.1 3130.4,199.3 3117.9,190.0"/>
<polygon points="1347.6,348.0 1359.0,358.6 1356.0,343.3"/>
<polygon points="3227.8,200.0 3243.3,199.3 3230.4,190.8"/>
<polygon points="1461.0,430.8 1447.0,437.5 1462.3,440.3"/>
<polygon points="1462.0,189.6 1450.0,199.5 1465.5,198.5"/>
<polygon points="1350.2,430.2 1336.0,436.5 1351.2,439.8"/>
<polygon points="1704.3,192.2 1690.5,199.3 1705.9,201.6"/>
<polygon points="1822.8,188.9 1811.3,199.4 1826.8,197.6"/>
<polygon points="1163.4,510.0 1149.6,517.2 1165.0,519.4"/>
<polygon points="1620.5,343.9 1625.5,358.6 1630.1,343.7"/>
<polygon points="661.0,271.4 651.0,283.3 666.1,279.6"/>
<polygon points="2049.9,344.2 2054.7,359.0 2059.5,344.2"/>
<polygon points="1880.8,273.6 1868.7,283.3 1884.2,282.6"/>
<polygon points="1164.2,516.7 1149.6,522.0 1164.6,526.2"/>
</g>
<g>
<rect class="nr" x="3178.75" y="5.33" width="197.50" height="44.67"/>
<text x="3277.50" y="23.37">GaudiCoreSvc/src/Message</text>
<text x="3277.50" y="40.37">Svc/MessageSvcSink.cpp</text>
<rect class="nw" x="392.40" y="106.50" width="135.20" height="27.67"/>
<text x="460.00" y="124.73">Gaudi/BaseSink.h</text>
<rect class="nw" x="2071.00" y="98.00" width="151.50" height="44.67"/>
<text x="2146.75" y="116.03">Gaudi/Histograming</text>
<text x="2146.75" y="133.03">/Sink/Utils.h</text>
<rect class="ng" x="3455.30" y="106.50" width="193.70" height="27.67"/>
<text x="3552.15" y="124.73">boost/algorithm/string.hpp</text>
<rect class="ng" x="3673.00" y="106.50" width="88.70" height="27.67"/>
<text x="3717.35" y="124.73">fmt/core.h</text>
<rect class="ng" x="3785.70" y="106.50" width="50.30" height="27.67"/>
<text x="3810.85" y="124.73">map</text>
<rect class="ng" x="35.00" y="199.17" width="60.50" height="27.67"/>
<text x="65.25" y="217.40">future</text>
<rect class="nx" x="171.00" y="199.17" width="164.75" height="27.67"/>
<text x="253.38" y="217.40">GaudiKernel/Service.h</text>
<rect class="ng" x="359.00" y="199.17" width="63.50" height="27.67"/>
<text x="390.75" y="217.40">thread</text>
<rect class="nw" x="1007.75" y="190.67" width="152.75" height="44.67"/>
<text x="1084.12" y="208.70">Gaudi/Accumulators</text>
<text x="1084.12" y="225.70">/StaticHistogram.h</text>
<rect class="ng" x="1386.25" y="199.17" width="75.50" height="27.67"/>
<text x="1424.00" y="217.40">gsl/span</text>
<rect class="ng" x="1486.25" y="199.17" width="243.75" height="27.67"/>
<text x="1608.12" y="217.40">range/v3/numeric/accumulate.hpp</text>
<rect class="ng" x="1753.75" y="199.17" width="65.75" height="27.67"/>
<text x="1786.62" y="217.40">ranges</text>
<rect class="nx" x="1945.00" y="199.17" width="219.25" height="27.67"/>
<text x="2054.62" y="217.40">GaudiKernel/GaudiException.h</text>
<rect class="ng" x="2187.50" y="199.17" width="99.75" height="27.67"/>
<text x="2237.38" y="217.40">TDirectory.h</text>
<rect class="ng" x="2310.50" y="199.17" width="64.50" height="27.67"/>
<text x="2342.75" y="217.40">TFile.h</text>
<rect class="ng" x="2398.25" y="199.17" width="59.75" height="27.67"/>
<text x="2428.12" y="217.40">TH1.h</text>
<rect class="ng" x="2481.25" y="199.17" width="69.75" height="27.67"/>
<text x="2516.12" y="217.40">TH1D.h</text>
<rect class="ng" x="2574.50" y="199.17" width="69.75" height="27.67"/>
<text x="2609.38" y="217.40">TH2D.h</text>
<rect class="ng" x="2668.00" y="199.17" width="69.75" height="27.67"/>
<text x="2702.88" y="217.40">TH3D.h</text>
<rect class="ng" x="2761.25" y="199.17" width="83.00" height="27.67"/>
<text x="2802.75" y="217.40">TProfile.h</text>
<rect class="ng" x="2868.25" y="199.17" width="101.00" height="27.67"/>
<text x="2918.75" y="217.40">TProfile2D.h</text>
<rect class="ng" x="2992.50" y="199.17" width="100.75" height="27.67"/>
<text x="3042.88" y="217.40">TProfile3D.h</text>
<rect class="ng" x="3116.60" y="199.17" width="84.40" height="27.67"/>
<text x="3158.80" y="217.40">algorithm</text>
<rect class="ng" x="3225.00" y="199.17" width="104.30" height="27.67"/>
<text x="3277.15" y="217.40">fmt/format.h</text>
<rect class="ng" x="43.00" y="283.33" width="63.50" height="27.67"/>
<text x="74.75" y="300.67">mutex</text>
<rect class="nx" x="189.25" y="283.33" width="128.75" height="27.67"/>
<text x="253.62" y="300.67">Gaudi/Property.h</text>
<rect class="ng" x="598.00" y="283.33" width="62.75" height="27.67"/>
<text x="629.38" y="300.67">vector</text>
<rect class="ng" x="988.50" y="283.33" width="65.75" height="27.67"/>
<text x="1021.38" y="300.67">format</text>
<rect class="ng" x="1077.50" y="283.33" width="55.75" height="27.67"/>
<text x="1105.38" y="300.67">array</text>
<rect class="ng" x="1156.50" y="283.33" width="69.00" height="27.67"/>
<text x="1191.00" y="300.67">cassert</text>
<rect class="nx" x="1401.50" y="283.33" width="165.00" height="27.67"/>
<text x="1484.00" y="300.67">Gaudi/Accumulators.h</text>
<rect class="ng" x="1793.75" y="283.33" width="76.75" height="27.67"/>
<text x="1832.12" y="300.67">memory</text>
<rect class="ng" x="51.75" y="359.00" width="96.75" height="27.67"/>
<text x="100.12" y="376.63">string_view</text>
<rect class="nx" x="532.50" y="359.00" width="173.00" height="27.67"/>
<text x="619.00" y="376.63">GaudiKernel/HistoDef.h</text>
<rect class="ng" x="729.00" y="359.00" width="59.50" height="27.67"/>
<text x="758.75" y="376.63">utility</text>
<rect class="ng" x="812.50" y="359.00" width="65.75" height="27.67"/>
<text x="845.38" y="376.63">chrono</text>
<rect class="nw" x="902.50" y="359.00" width="171.25" height="27.67"/>
<text x="988.12" y="376.63">Gaudi/MonitoringHub.h</text>
<rect class="ng" x="1332.75" y="359.00" width="62.75" height="27.67"/>
<text x="1364.12" y="376.63">cmath</text>
<rect class="ng" x="1577.00" y="359.00" width="91.75" height="27.67"/>
<text x="1622.88" y="376.63">type_traits</text>
<rect class="nx" x="1959.25" y="359.00" width="191.00" height="27.67"/>
<text x="2054.75" y="376.63">GaudiKernel/MsgStream.h</text>
<rect class="ng" x="760.75" y="434.67" width="75.75" height="27.67"/>
<text x="798.62" y="452.90">typeinfo</text>
<rect class="ng" x="860.00" y="434.67" width="61.50" height="27.67"/>
<text x="890.75" y="452.90">deque</text>
<rect class="ng" x="944.50" y="434.67" width="87.25" height="27.67"/>
<text x="988.12" y="452.90">typeindex</text>
<rect class="ng" x="1190.00" y="434.67" width="145.50" height="27.67"/>
<text x="1262.75" y="452.90">nlohmann/json.hpp</text>
<rect class="ng" x="1359.25" y="434.67" width="86.75" height="27.67"/>
<text x="1402.62" y="452.90">functional</text>
<rect class="ng" x="2010.75" y="434.67" width="74.50" height="27.67"/>
<text x="2048.00" y="452.90">sstream</text>
<rect class="nx" x="2108.75" y="434.67" width="201.75" height="27.67"/>
<text x="2209.62" y="452.90">GaudiKernel/IMessageSvc.h</text>
<rect class="ng" x="1089.50" y="510.33" width="59.00" height="27.67"/>
<text x="1119.00" y="528.57">string</text>
<rect class="ng" x="1493.25" y="510.33" width="80.00" height="27.67"/>
<text x="1533.25" y="528.57">iostream</text>
</g>
</svg></body></html>
